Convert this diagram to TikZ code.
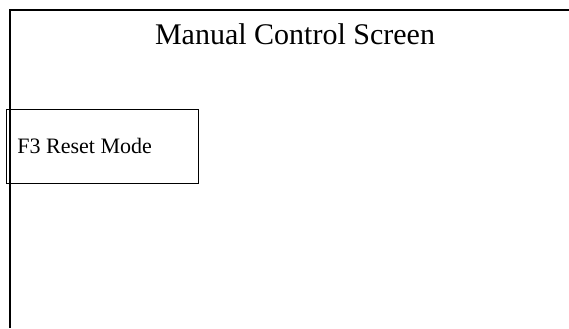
\documentclass[tikz,border=0pt]{standalone}
\usepackage{fontspec}
\setmainfont{Liberation Serif}
\newcommand{\keytext}[1]{\makebox[170bp][l]{#1}}
\begin{document}
\begin{tikzpicture}[x=1bp,y=-1bp,
    framebox/.style={draw,line width=1.6bp},
    keybox/.style={draw,line width=0.9bp,rectangle,inner xsep=11bp,minimum height=74bp,font=\fontsize{22bp}{26bp}\selectfont}]
    \useasboundingbox (0,0) rectangle (569,328);
    % screen frame, only top and left edges show
    \draw[framebox] (10,328) -- (10,10) -- (569,10);
    \node[anchor=base,font=\fontsize{30bp}{34bp}\selectfont] (title) at (295,44) {Manual Control Screen};
    \node[keybox,anchor=north west] (reset) at (6,109) {\keytext{F3 Reset Mode}};
  \end{tikzpicture}
\end{document}
